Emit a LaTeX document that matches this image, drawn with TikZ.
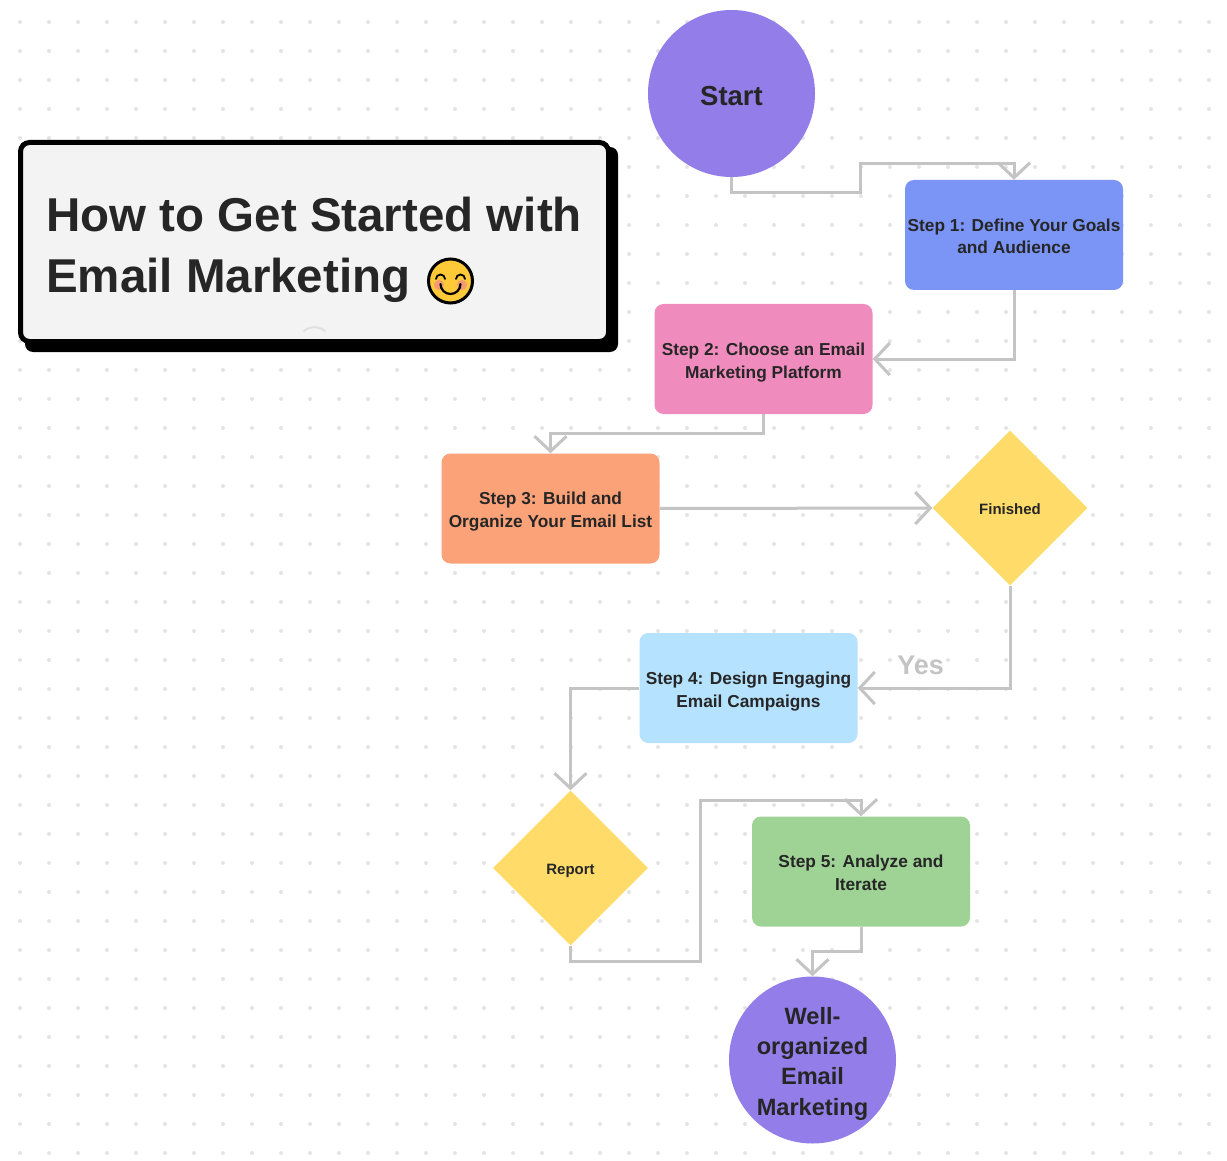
\documentclass[tikz,border=0pt]{standalone}
\usepackage{fontspec}
\setmainfont{Liberation Sans}
\usetikzlibrary{arrows.meta, shapes.geometric}
\definecolor{ink}{HTML}{262626}
\definecolor{wire}{HTML}{C4C4C4}
\definecolor{griddot}{HTML}{E4E4E4}
\definecolor{purpleish}{HTML}{937DE8}
\definecolor{yellowish}{HTML}{FFDC69}
\definecolor{bluish}{HTML}{7B95F7}
\definecolor{pinkish}{HTML}{F08CBD}
\definecolor{orangeish}{HTML}{FCA278}
\definecolor{skyish}{HTML}{B5E2FF}
\definecolor{greenish}{HTML}{9FD295}
\definecolor{cardfill}{HTML}{F3F3F3}
\definecolor{smileyfill}{HTML}{FFC938}
\definecolor{cheek}{HTML}{F59A73}
\tikzset{
    stepbox/.style={rectangle, rounded corners=9pt, minimum width=218pt, minimum height=110pt,
        align=center, text=ink, font=\fontsize{17.3}{22.7}\selectfont\bfseries, inner sep=0pt,
        text height=38pt, text depth=0pt},
    endpoint/.style={circle, fill=purpleish, minimum size=167pt, align=center, text=ink, inner sep=0pt},
    decision/.style={diamond, fill=yellowish, minimum width=155pt, minimum height=155pt, aspect=1,
        text=ink, font=\fontsize{15}{18}\selectfont\bfseries, inner sep=0pt,
        text height=12pt, text depth=0pt},
    wireline/.style={draw=wire, line width=3pt, -{Straight Barb[length=15pt, width=32pt, line width=3pt]}},
    titleline/.style={anchor=base west, text=ink, font=\fontsize{47.5}{50}\selectfont\bfseries, inner sep=0pt},
}
\begin{document}
\begin{tikzpicture}[x=1pt, y=-1pt]
    \useasboundingbox (0, 0) rectangle (1227, 1161);
    \fill[white] (0, 0) rectangle (1227, 1161);
    % dotted canvas
    \foreach \i in {0,...,41} {
        \foreach \j in {0,...,39} {
            \fill[griddot] (20 + 29 * \i, 22 + 29 * \j) circle (2pt);
        }
    }

    % title card
    \fill[black, rounded corners=8pt] (25, 147) rectangle (618, 352);
    \node (title) [draw=black, line width=5pt, fill=cardfill, rounded corners=9pt, minimum width=588pt,
        minimum height=199pt, inner sep=0pt] at (314.5, 242) {};
    \node (line1) [titleline] at (46, 232) {How to Get Started with};
    \node (line2) [titleline] at (46, 293) {Email Marketing};
    \node (smiley) [circle, draw=black, line width=3pt, fill=smileyfill, minimum size=44pt, inner sep=0pt] at (450.5, 281) {};
    \fill[cheek] (439, 285) circle (5pt) (462, 285) circle (5pt);
    \draw[line width=1.8pt, line cap=round] (436, 279) arc[start angle=180, end angle=0, radius=4.5pt];
    \draw[line width=1.8pt, line cap=round] (456, 279) arc[start angle=180, end angle=0, radius=4.5pt];
    \draw[line width=2.2pt, line cap=round] (440.5, 284) arc[start angle=180, end angle=360, radius=10pt];
    \draw[black!12, line width=2pt, line cap=round] (304, 331) .. controls (310, 326) and (319, 326) .. (325, 331);

    % flow
    \node (start) [endpoint, font=\fontsize{27.5}{30}\selectfont\bfseries, text height=25pt, text depth=0pt] at (731.5, 93.5) {Start};
    \node (step1) [stepbox, fill=bluish] at (1014, 235) {Step 1: Define Your Goals\\and Audience};
    \node (step2) [stepbox, fill=pinkish] at (763.5, 359) {Step 2: Choose an Email\\Marketing Platform};
    \node (step3) [stepbox, fill=orangeish] at (550.5, 508.5) {Step 3: Build and\\Organize Your Email List};
    \node (finished) [decision] at (1010, 508) {Finished};
    \node (step4) [stepbox, fill=skyish] at (748.5, 688) {Step 4: Design Engaging\\Email Campaigns};
    \node (report) [decision] at (570.5, 868) {Report};
    \node (step5) [stepbox, fill=greenish] at (861, 871.5) {Step 5: Analyze and\\Iterate};
    \node (done) [endpoint, font=\fontsize{23.6}{30.3}\selectfont\bfseries, text height=110pt, text depth=0pt] at (812.5, 1060) {Well-\\organized\\Email\\Marketing};

    \draw[wireline] (start.south) -- ++(0, 15) -| (860, 164) -| (step1.north);
    \draw[wireline] (step1.south) |- (step2.east);
    \draw[wireline] (step2.south) |- (550.5, 433) -- (step3.north);
    \draw[wireline] (step3.east) -- (finished.west);
    \draw[wireline] (finished.south) |- (step4.east) node[pos=0.78, above, text=wire, font=\fontsize{27}{30}\selectfont\bfseries, xshift=-4pt, yshift=8pt] {Yes};
    \draw[wireline] (step4.west) -| (report.north);
    \draw[wireline] (report.south) |- (700, 961) |- (861, 800) -- (step5.north);
    \draw[wireline] (step5.south) |- (812.5, 951) -- (done.north);
\end{tikzpicture}
\end{document}
